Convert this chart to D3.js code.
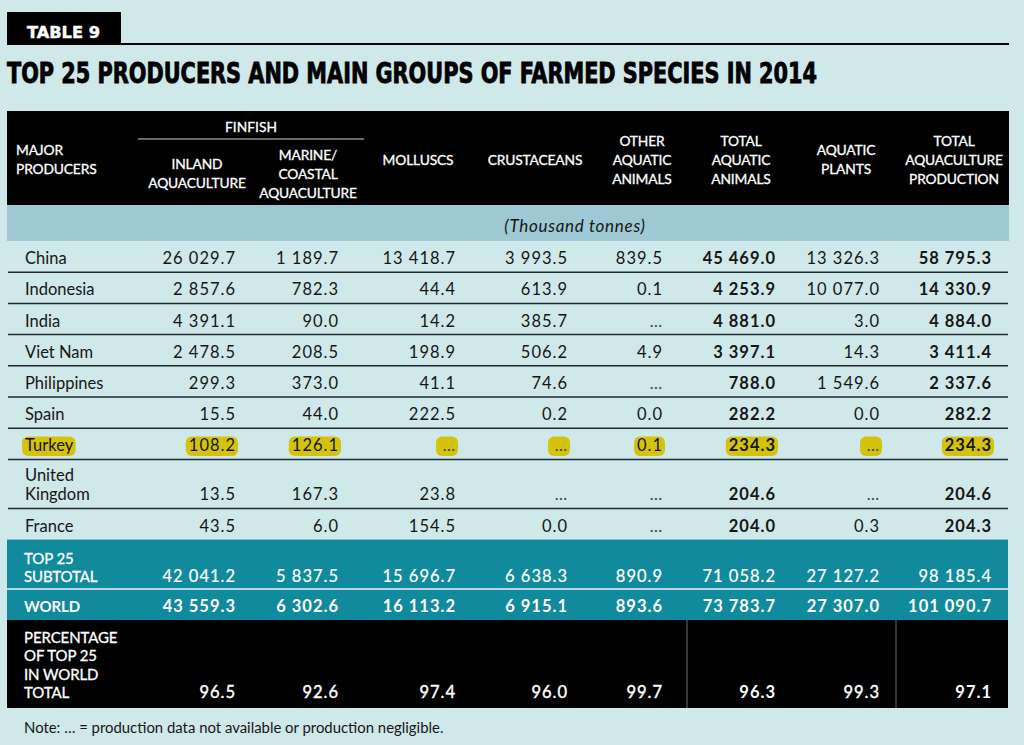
<!DOCTYPE html>
<html>
<head>
<meta charset="utf-8">
<script src="https://cdn.jsdelivr.net/npm/d3@7"></script>
<style>
  html, body { margin: 0; padding: 0; background: #cfe8e9; }
  svg { display: block; }
</style>
</head>
<body>
<div id="chart"></div>
<script>
// ---------------- DATA ----------------
const tableLabel = "TABLE 9";
const title = "TOP 25 PRODUCERS AND MAIN GROUPS OF FARMED SPECIES IN 2014";
const unitLabel = "(Thousand tonnes)";
const groupHeader = "FINFISH";
const rowHeader = ["MAJOR", "PRODUCERS"];
const columnHeaders = [
  ["INLAND", "AQUACULTURE"],
  ["MARINE/", "COASTAL", "AQUACULTURE"],
  ["MOLLUSCS"],
  ["CRUSTACEANS"],
  ["OTHER", "AQUATIC", "ANIMALS"],
  ["TOTAL", "AQUATIC", "ANIMALS"],
  ["AQUATIC", "PLANTS"],
  ["TOTAL", "AQUACULTURE", "PRODUCTION"]
];
const countries = [["China"], ["Indonesia"], ["India"], ["Viet Nam"], ["Philippines"], ["Spain"], ["Turkey"], ["United", "Kingdom"], ["France"]];
const inland        = [26029.7, 2857.6, 4391.1, 2478.5, 299.3, 15.5, 108.2, 13.5, 43.5];
const marine        = [1189.7, 782.3, 90.0, 208.5, 373.0, 44.0, 126.1, 167.3, 6.0];
const molluscs      = [13418.7, 44.4, 14.2, 198.9, 41.1, 222.5, null, 23.8, 154.5];
const crustaceans   = [3993.5, 613.9, 385.7, 506.2, 74.6, 0.2, null, null, 0.0];
const otherAnimals  = [839.5, 0.1, null, 4.9, null, 0.0, 0.1, null, null];
const totalAnimals  = [45469.0, 4253.9, 4881.0, 3397.1, 788.0, 282.2, 234.3, 204.6, 204.0];
const aquaticPlants = [13326.3, 10077.0, 3.0, 14.3, 1549.6, 0.0, null, null, 0.3];
const totalProduction = [58795.3, 14330.9, 4884.0, 3411.4, 2337.6, 282.2, 234.3, 204.6, 204.3];
const subtotalLabel = ["TOP 25", "SUBTOTAL"];
const subtotal   = [42041.2, 5837.5, 15696.7, 6638.3, 890.9, 71058.2, 27127.2, 98185.4];
const worldLabel = ["WORLD"];
const world      = [43559.3, 6302.6, 16113.2, 6915.1, 893.6, 73783.7, 27307.0, 101090.7];
const percentLabel = ["PERCENTAGE", "OF TOP 25", "IN WORLD", "TOTAL"];
const percentage = [96.5, 92.6, 97.4, 96.0, 99.7, 96.3, 99.3, 97.1];
const boldColumns = [5, 7];
const highlightedCountry = "Turkey";
const note = "Note: \u2026 = production data not available or production negligible.";

// ---------------- LAYOUT ----------------
const W = 1024, H = 745;
const C = { bg: "#cfe8e9", black: "#000000", unit: "#9dc8d4", teal: "#118a9e", text: "#161616", rule: "#1e2a30", hl: "#d4c30a" };
const FONT = "Lato, 'Open Sans', sans-serif";
const tableX0 = 7, tableX1 = 1009;

const svg = d3.select("#chart").append("svg").attr("width", W).attr("height", H);
svg.append("rect").attr("width", W).attr("height", H).attr("fill", C.bg);

const fmt = d3.formatLocale({ decimal: ".", thousands: " ", grouping: [3], currency: ["", ""] }).format(",.1f");
const cell = v => (v === null ? "\u2026" : fmt(v));

const seriesList = [inland, marine, molluscs, crustaceans, otherAnimals, totalAnimals, aquaticPlants, totalProduction];
const colIdx = d3.range(seriesList.length);
// right edges of the number columns and centres of headings
const xRight = d3.scaleOrdinal().domain(colIdx).range([236, 339, 456, 568, 663, 776, 880, 992]);
const xHead  = d3.scaleOrdinal().domain(colIdx).range([197, 308, 418, 535, 642, 741, 846, 954]);

// ---------------- TITLE ----------------
svg.append("rect").attr("x", 7).attr("y", 12).attr("width", 114).attr("height", 33).attr("fill", C.black);
svg.append("line").attr("x1", 121).attr("x2", tableX1).attr("y1", 44).attr("y2", 44).attr("stroke", C.black).attr("stroke-width", 2);
svg.append("text").attr("x", 27).attr("y", 37.5).text(tableLabel)
  .attr("font-family", "'DejaVu Sans Condensed', 'DejaVu Sans', sans-serif").attr("font-weight", "bold")
  .attr("font-size", 16).attr("fill", "#fff").attr("textLength", 73).attr("lengthAdjust", "spacingAndGlyphs")
  .attr("stroke", "#fff").attr("stroke-width", 0.4);
svg.append("text").attr("x", 7).attr("y", 83).text(title)
  .attr("font-family", "'DejaVu Sans Condensed', 'DejaVu Sans', sans-serif").attr("font-weight", "bold")
  .attr("font-size", 27.5).attr("fill", C.black).attr("textLength", 810).attr("lengthAdjust", "spacingAndGlyphs")
  .attr("stroke", C.black).attr("stroke-width", 0.8);

// ---------------- HEADER ----------------
const headTop = 111, headBot = 205, unitBot = 241;
svg.append("rect").attr("x", tableX0).attr("y", headTop).attr("width", tableX1 - tableX0).attr("height", headBot - headTop).attr("fill", C.black);
svg.append("rect").attr("x", tableX0).attr("y", headBot).attr("width", tableX1 - tableX0).attr("height", unitBot - headBot).attr("fill", C.unit);

function multiline(g, lines, x, cy, anchor, opts) {
  const lh = opts.lh || 19;
  const t = g.append("text").attr("text-anchor", anchor)
    .attr("font-family", FONT).attr("font-size", opts.size).attr("fill", opts.fill)
    .attr("font-weight", opts.weight || 400).attr("letter-spacing", opts.ls || 0)
    .attr("stroke", opts.stroke || "none").attr("stroke-width", opts.sw || 0);
  lines.forEach((s, i) => {
    t.append("tspan").attr("x", x).attr("y", cy + opts.shift + (i - (lines.length - 1) / 2) * lh).text(s);
  });
  return t;
}

const hOpts = { size: 13.8, fill: "#fff", shift: 4.8, lh: 19, ls: -0.15, stroke: "#fff", sw: 0.3 };
multiline(svg, rowHeader, 16, 160, "start", hOpts);
svg.append("text").attr("x", 251).attr("y", 132).attr("text-anchor", "middle").text(groupHeader)
  .attr("font-family", FONT).attr("font-size", 13.8).attr("fill", "#fff").attr("stroke", "#fff").attr("stroke-width", 0.3);
svg.append("line").attr("x1", 138).attr("x2", 364).attr("y1", 139).attr("y2", 139).attr("stroke", "#8c8c8c").attr("stroke-width", 1.5);
columnHeaders.forEach((lines, i) => {
  const cy = i < 2 ? 174 : 160;
  multiline(svg, lines, xHead(i), cy, "middle", hOpts);
});
svg.append("text").attr("x", 575).attr("y", 232).attr("text-anchor", "middle").text(unitLabel)
  .attr("font-family", FONT).attr("font-style", "italic").attr("font-size", 17).attr("letter-spacing", 0.7).attr("fill", C.text);

// ---------------- BODY ROWS ----------------
const baseH = 31.2, extraH = 17.8;
const rowTops = [];
let yy = unitBot;
countries.forEach(c => { rowTops.push(yy); yy += baseH + (c.length - 1) * extraH; });
const bodyBottom = yy; // ~540

const body = svg.append("g");
countries.forEach((c, r) => {
  const top = rowTops[r];
  const bottom = r < countries.length - 1 ? rowTops[r + 1] : bodyBottom;
  const baseline = bottom - 8;
  const g = body.append("g");
  const hlG = g.append("g");
  const items = [];
  // label
  const lbl = g.append("text").attr("font-family", FONT).attr("font-size", 16.5).attr("fill", C.text);
  c.forEach((s, i) => lbl.append("tspan").attr("x", 25).attr("y", baseline - (c.length - 1 - i) * 19).text(s));
  items.push(lbl);
  seriesList.forEach((series, k) => {
    const v = series[r];
    const t = g.append("text").attr("x", xRight(k)).attr("y", baseline).attr("text-anchor", "end")
      .attr("font-family", FONT).attr("font-size", 16.5).attr("letter-spacing", 1)
      .attr("font-weight", boldColumns.includes(k) ? 700 : 400)
      .attr("fill", v === null ? "#444" : C.text).text(cell(v));
    items.push(t);
  });
  if (c.join(" ") === highlightedCountry) {
    items.forEach(t => {
      const b = t.node().getBBox();
      const w = Math.max(b.width + 5, 22);
      const x = b.x + b.width + 2 - w;
      hlG.append("rect").attr("x", x).attr("y", b.y + 1).attr("width", w).attr("height", b.height - 0.5)
        .attr("rx", 6).attr("fill", C.hl);
    });
  }
  if (r < countries.length - 1) {
    body.append("line").attr("x1", tableX0 + 1).attr("x2", tableX1 - 1).attr("y1", bottom).attr("y2", bottom)
      .attr("stroke", C.rule).attr("stroke-width", 1.5);
  }
});

// ---------------- TOTAL ROWS ----------------
const subTop = bodyBottom, subBot = 589, worldBot = 620, pctBot = 708;
svg.append("rect").attr("x", tableX0).attr("y", subTop).attr("width", tableX1 - tableX0 - 1).attr("height", worldBot - subTop).attr("fill", C.teal);
svg.append("line").attr("x1", tableX0).attr("x2", tableX1 - 1).attr("y1", subBot).attr("y2", subBot).attr("stroke", "#e8f4f6").attr("stroke-width", 1.5);
svg.append("rect").attr("x", tableX0).attr("y", worldBot).attr("width", tableX1 - tableX0 - 1).attr("height", pctBot - worldBot).attr("fill", C.black);
[687, 896].forEach(x => svg.append("line").attr("x1", x).attr("x2", x).attr("y1", worldBot).attr("y2", pctBot).attr("stroke", "#6e6e6e").attr("stroke-width", 1));

function totalRow(label, values, baseline, labelWeight, valueWeight, valueStroke) {
  const lbl = svg.append("text").attr("font-family", FONT).attr("font-size", 15).attr("fill", "#fff").attr("font-weight", labelWeight)
    .attr("letter-spacing", -0.1).attr("stroke", "#fff").attr("stroke-width", labelWeight === 700 ? 0 : 0.3);
  label.forEach((s, i) => lbl.append("tspan").attr("x", 24).attr("y", baseline - (label.length - 1 - i) * 18.4).text(s));
  values.forEach((v, k) => {
    const wgt = valueWeight(k);
    svg.append("text").attr("x", xRight(k)).attr("y", baseline).attr("text-anchor", "end")
      .attr("font-family", FONT).attr("font-size", 16.5).attr("letter-spacing", 1)
      .attr("font-weight", wgt).attr("fill", "#fff")
      .attr("stroke", "#fff").attr("stroke-width", wgt === 700 ? 0 : valueStroke)
      .text(cell(v));
  });
}
totalRow(subtotalLabel, subtotal, 582, 400, () => 400, 0.2);
totalRow(worldLabel, world, 612, 700, () => 700, 0);
totalRow(percentLabel, percentage, 698, 400, k => (boldColumns.includes(k) ? 700 : 400), 0.4);

// ---------------- NOTE ----------------
svg.append("text").attr("x", 24).attr("y", 733).text(note)
  .attr("font-family", FONT).attr("font-size", 14.9).attr("fill", C.text);
</script>
</body>
</html>
